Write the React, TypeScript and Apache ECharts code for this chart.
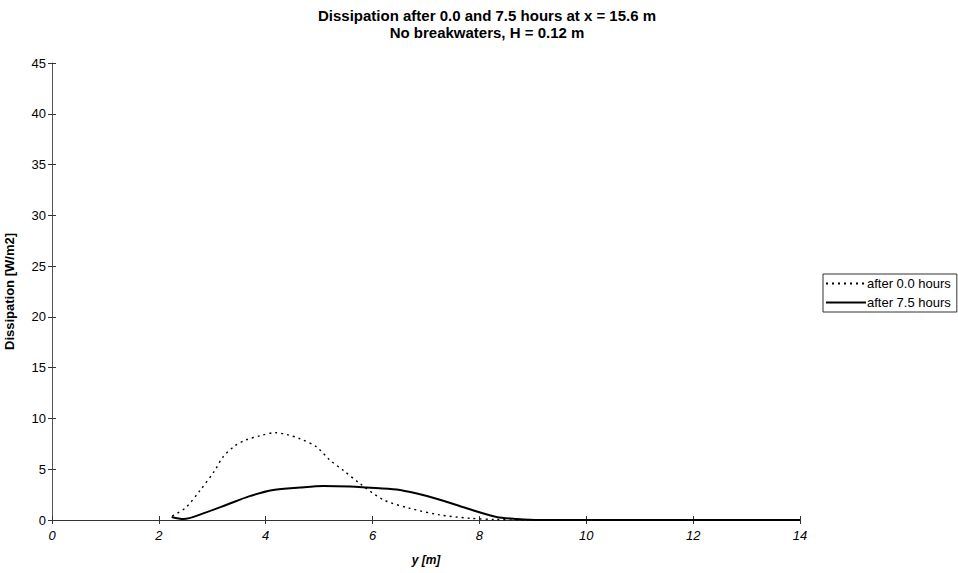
import React, { useEffect, useRef } from "react";
import * as echarts from "echarts";

// Cross-shore position y [m] and dissipation [W/m2]
const y0 = [2.25, 2.5, 2.77, 3.05, 3.2, 3.42, 3.64, 3.9, 4.17, 4.4, 4.64, 4.95, 5.2, 5.45, 5.76, 6.2, 6.7, 7.26, 7.82, 8.3, 8.8, 9.2];
const d0 = [0.4, 1.2, 2.9, 4.9, 6.2, 7.3, 7.9, 8.3, 8.6, 8.4, 8.0, 7.2, 5.9, 4.9, 3.6, 2.0, 1.15, 0.5, 0.17, 0.05, 0, 0];

const y75 = [2.24, 2.46, 2.83, 3.27, 3.7, 4.14, 4.64, 5.08, 5.58, 5.89, 6.45, 6.83, 7.26, 7.76, 8.32, 8.7, 9.13, 10, 11, 12, 13, 14];
const d75 = [0.3, 0.1, 0.65, 1.5, 2.35, 2.95, 3.2, 3.35, 3.3, 3.2, 3.0, 2.6, 2.0, 1.15, 0.3, 0.1, 0, 0, 0, 0, 0, 0];

const seriesNames = ["after 0.0 hours", "after 7.5 hours"];
const xTicks = { min: 0, max: 14, interval: 2 };
const yTicks = { min: 0, max: 45, interval: 5 };

const FONT = "Liberation Sans, Arial, sans-serif";

export default function App() {
  const ref = useRef<HTMLDivElement>(null);

  useEffect(() => {
    if (!ref.current) return;
    const chart = echarts.init(ref.current, undefined, { renderer: "svg" });
    const pairs = (xs: number[], ys: number[]) => xs.map((x, i) => [x, ys[i]]);

    const baseX = {
      type: "value" as const,
      min: xTicks.min,
      max: xTicks.max,
      interval: xTicks.interval,
      splitLine: { show: false },
    };
    const baseY = {
      type: "value" as const,
      min: yTicks.min,
      max: yTicks.max,
      interval: yTicks.interval,
      splitLine: { show: false },
    };

    chart.setOption({
      animation: false,
      backgroundColor: "#fff",
      textStyle: { fontFamily: FONT },
      title: {
        text: "Dissipation after 0.0 and 7.5 hours at x = 15.6 m\nNo breakwaters, H = 0.12 m",
        left: 482,
        top: 2,
        textAlign: "center",
        textStyle: { fontFamily: FONT, fontSize: 15, fontWeight: "bold", color: "#000", lineHeight: 17 },
      },
      legend: {
        orient: "vertical",
        left: 823,
        top: 274,
        itemWidth: 40,
        itemHeight: 10,
        itemGap: 6,
        padding: [3, 6, 3, 2],
        borderColor: "#333",
        borderWidth: 1,
        data: seriesNames,
        itemStyle: { opacity: 0 },
        textStyle: { fontFamily: FONT, fontSize: 13, color: "#000", padding: [0, 0, 0, -4] },
      },
      grid: { left: 52, right: 158, top: 63, bottom: 53, containLabel: false, outerBoundsMode: "none" },
      xAxis: [
        {
          ...baseX,
          name: "y [m]",
          nameLocation: "middle",
          nameGap: 34,
          nameTextStyle: { fontFamily: FONT, fontSize: 12, fontStyle: "italic", fontWeight: "bold", color: "#000" },
          axisLine: { show: true, onZero: false, lineStyle: { color: "#333", width: 1 } },
          axisTick: { show: true, length: 4, lineStyle: { color: "#333" } },
          axisLabel: { fontFamily: FONT, fontSize: 13, fontStyle: "italic", color: "#000", margin: 9 },
        },
        {
          ...baseX,
          position: "bottom",
          axisLine: { show: false },
          axisTick: { show: true, inside: true, length: 4, lineStyle: { color: "#333" } },
          axisLabel: { show: false },
        },
      ],
      yAxis: [
        {
          ...baseY,
          name: "Dissipation [W/m2]",
          nameLocation: "middle",
          nameGap: 36,
          nameRotate: 90,
          nameTextStyle: { fontFamily: FONT, fontSize: 13, fontWeight: "bold", color: "#000" },
          axisLine: { show: true, onZero: false, lineStyle: { color: "#555", width: 1 } },
          axisTick: { show: true, length: 4, lineStyle: { color: "#333" } },
          axisLabel: { fontFamily: FONT, fontSize: 13, color: "#000", margin: 6 },
        },
        {
          ...baseY,
          position: "left",
          axisLine: { show: false },
          axisTick: { show: true, inside: true, length: 4, lineStyle: { color: "#333" } },
          axisLabel: { show: false },
        },
      ],
      series: [
        {
          name: seriesNames[0],
          type: "line",
          data: pairs(y0, d0),
          smooth: 0.3,
          showSymbol: false,
          symbol: "none",
          lineStyle: { color: "#000", width: 1.4, type: [2, 4] },
          itemStyle: { color: "#000" },
        },
        {
          name: seriesNames[1],
          type: "line",
          data: pairs(y75, d75),
          smooth: 0.3,
          showSymbol: false,
          symbol: "none",
          lineStyle: { color: "#000", width: 2 },
          itemStyle: { color: "#000" },
        },
      ],
    });

    return () => chart.dispose();
  }, []);

  return <div ref={ref} style={{ width: 958, height: 573, position: "absolute", left: 0, top: 0 }} />;
}
